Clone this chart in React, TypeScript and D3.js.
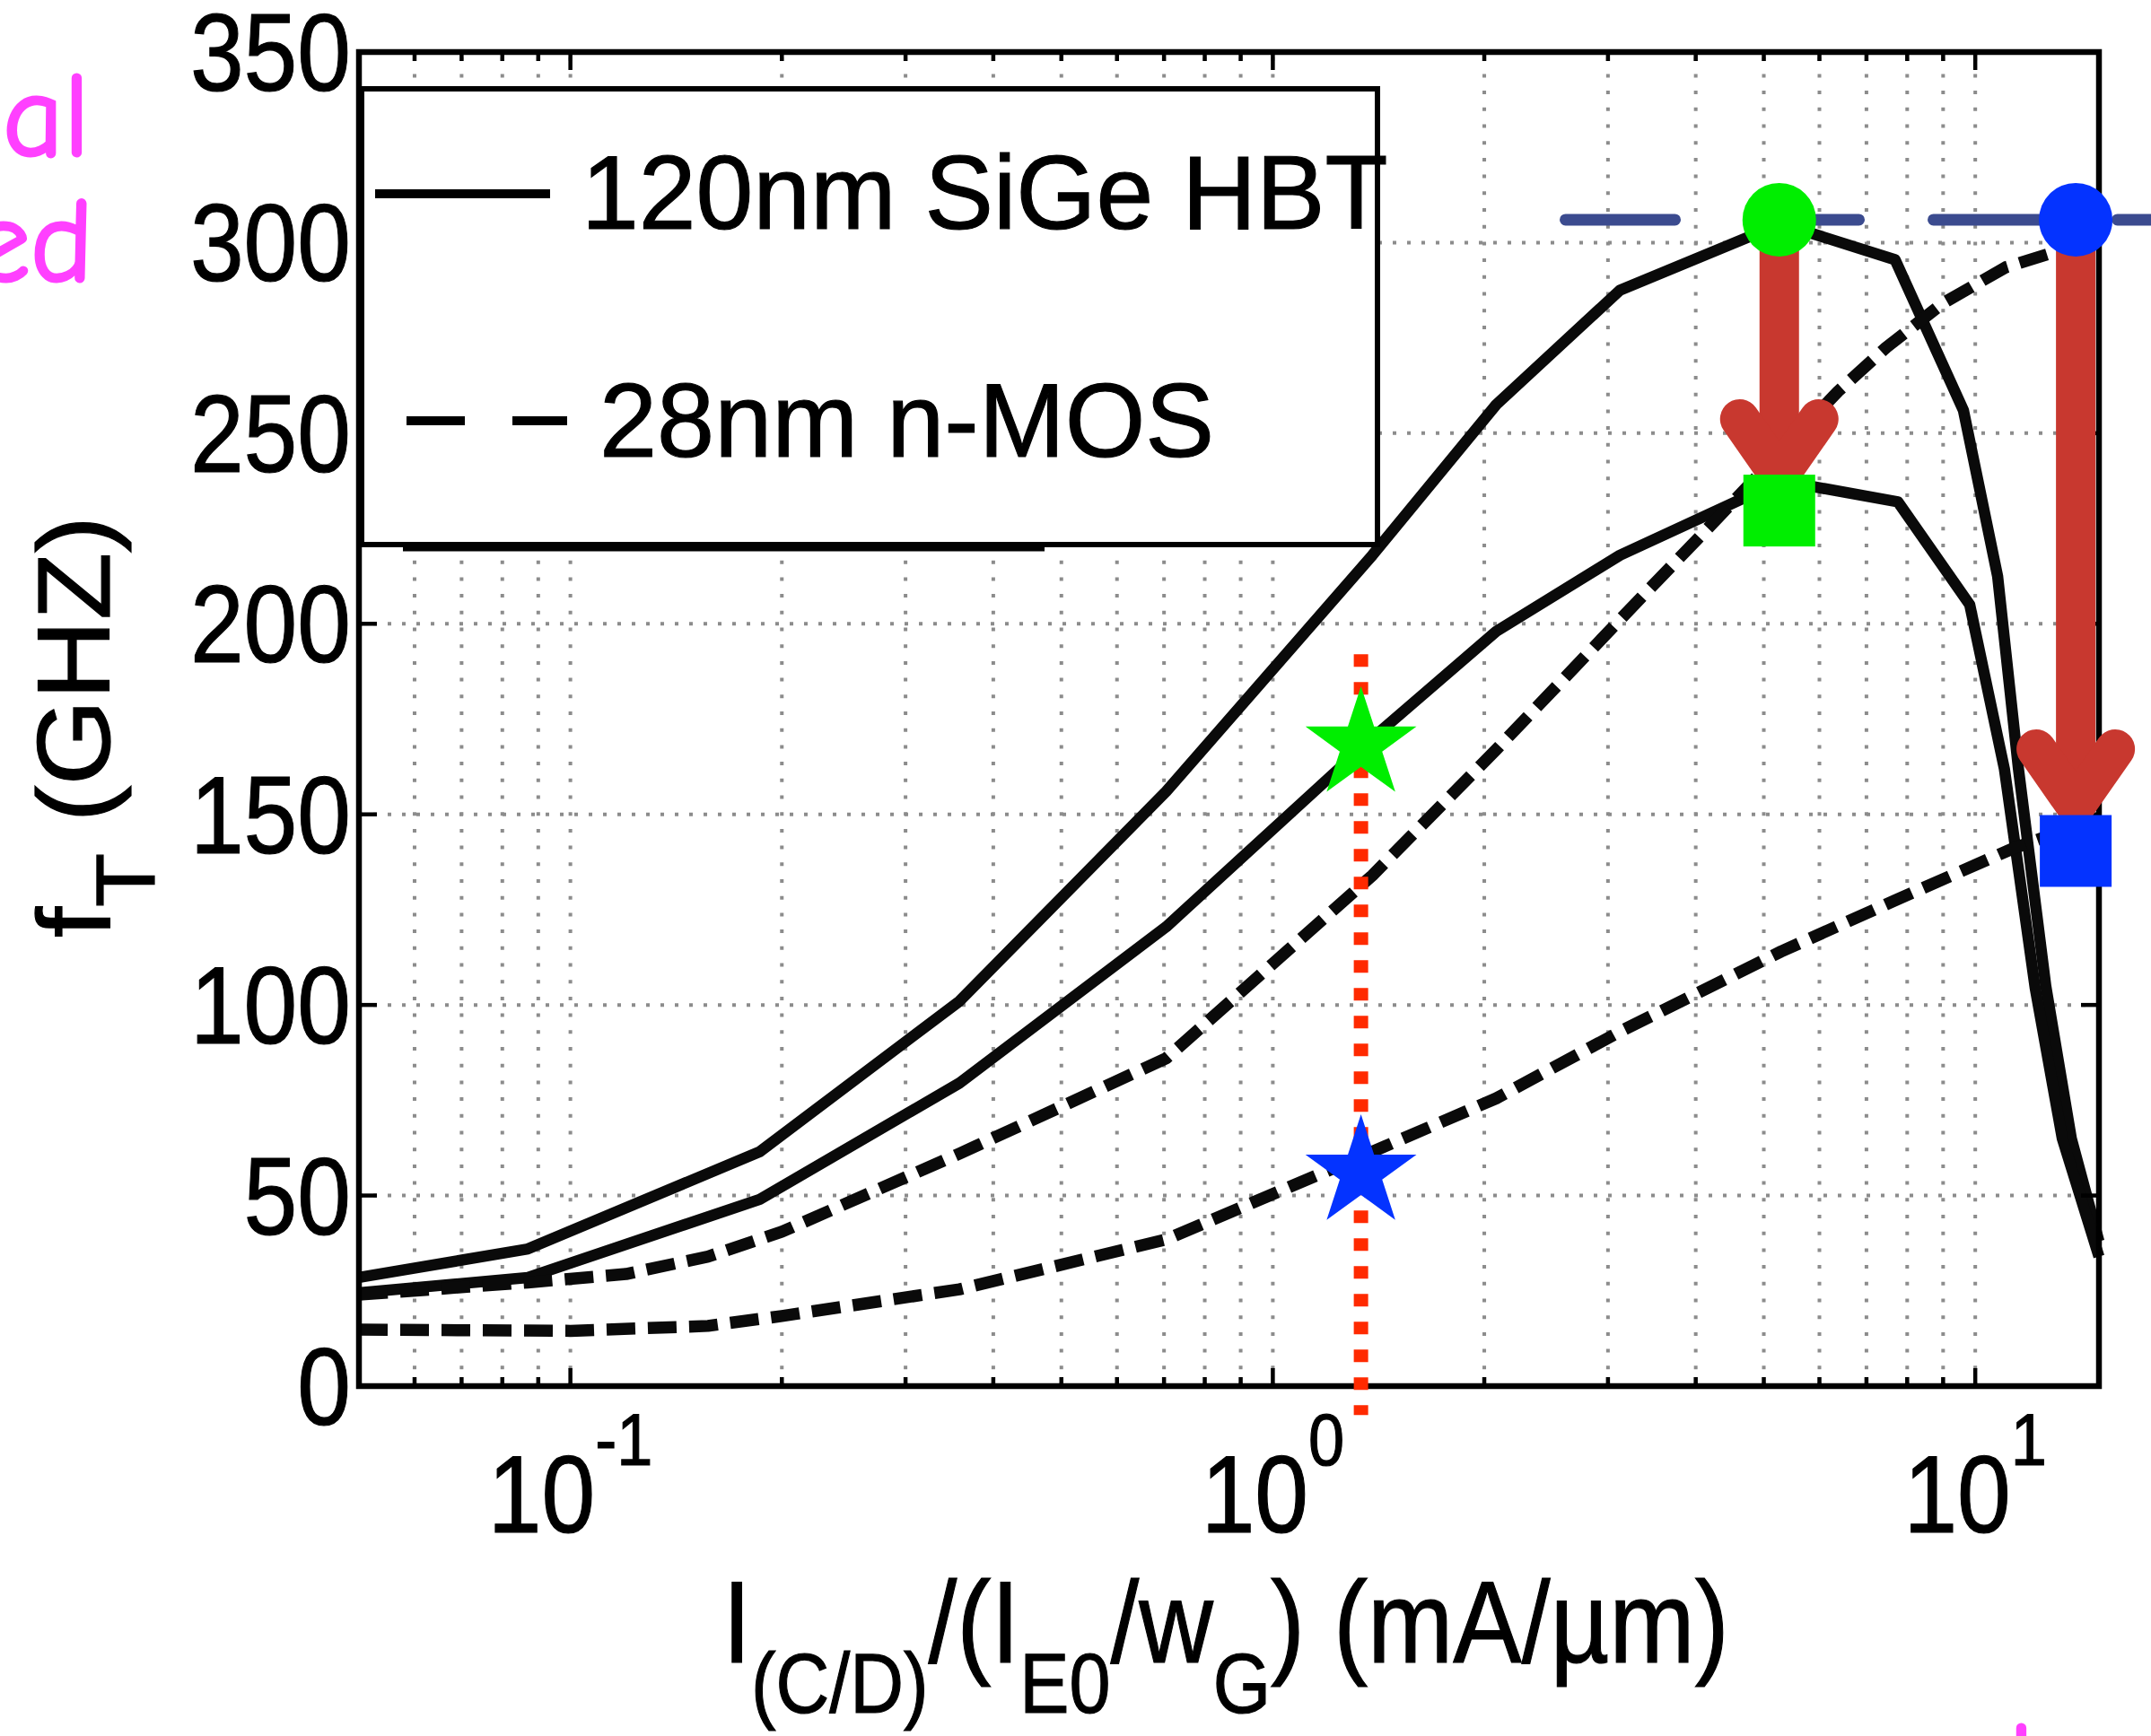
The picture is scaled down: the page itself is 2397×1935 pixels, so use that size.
import React from "react";
import * as d3 from "d3";

const WIDTH = 2397;
const HEIGHT = 1935;

// ---------- data ----------
const xDomain: [number, number] = [0.05, 15];
const yDomain: [number, number] = [0, 350];

// 120nm SiGe HBT (solid), upper curve
const hbtHighX = [0.05, 0.087, 0.186, 0.358, 0.705, 1.386, 2.08, 3.12, 5.29, 7.69, 9.62, 10.76, 11.52, 12.6, 13.7, 15];
const hbtHighY = [28.5, 36, 61.5, 101, 156, 218, 257.5, 287.5, 305, 295.5, 256, 212.5, 162, 105, 65, 38];
// 120nm SiGe HBT (solid), lower curve
const hbtLowX = [0.05, 0.087, 0.186, 0.358, 0.705, 1.386, 2.08, 3.12, 5.29, 7.76, 9.82, 11.0, 12.17, 13.3, 15];
const hbtLowY = [24.5, 28.5, 49, 79.5, 120.5, 170, 198, 218, 237.5, 232, 205, 162, 104.5, 65, 34];
// 28nm n-MOS (dashed), upper curve
const mosHighX = [0.05, 0.087, 0.12, 0.157, 0.2, 0.358, 0.705, 1.386, 2.08, 3.27, 4.11, 6.38, 7.47, 8.98, 11.04, 12.7, 15];
const mosHighY = [24, 27.2, 29.4, 34, 40.5, 61, 86, 134, 167, 205, 224, 261, 272.5, 284, 293.5, 297, 301];
// 28nm n-MOS (dashed), lower curve
const mosLowX = [0.05, 0.1, 0.157, 0.2, 0.358, 0.705, 1.386, 2.08, 3.12, 5.29, 7.7, 11.3, 15];
const mosLowY = [14.8, 14.5, 15.8, 18.4, 25.4, 38.5, 61.5, 75.5, 93, 114, 127.5, 141, 149];

const yTicks = [0, 50, 100, 150, 200, 250, 300, 350];
const yGrid = [50, 100, 150, 200, 250, 300];
const xMajorTicks = [0.1, 1, 10];
const xMajorExps = ["-1", "0", "1"];
const xMinorTicks = [0.06, 0.07, 0.08, 0.09, 0.2, 0.3, 0.4, 0.5, 0.6, 0.7, 0.8, 0.9, 2, 3, 4, 5, 6, 7, 8, 9];

const legendLabels = ["120nm SiGe HBT", "28nm n-MOS"];

// annotations
const guideFt = 306;
const guideFrom = 2.61;
const guideTo = 18;
const peakX = [5.26, 13.9];
const peakColors = ["#00ee00", "#0433ff"];
const dropTipFt = [238.9, 152.3];
const dropFt = [229.7, 140.4];
const starX = 1.335;
const starFt = [168.3, 56];
const starColors = ["#00ee00", "#0433ff"];
const redLineFt: [number, number] = [192, -7.6];

const FONT = "'Liberation Sans', Arial, Helvetica, sans-serif";

export default function App() {
  const x = d3.scaleLog().domain(xDomain).range([400, 2339]);
  const y = d3.scaleLinear().domain(yDomain).range([1545, 58]);
  const [x0, x1] = x.range();
  const [y0, y1] = y.range();

  const line = d3
    .line<[number, number]>()
    .x((d) => x(d[0]))
    .y((d) => y(d[1]));
  const zip = (xs: number[], ys: number[]) => xs.map((v, i) => [v, ys[i]] as [number, number]);

  const solidCurves = [zip(hbtHighX, hbtHighY), zip(hbtLowX, hbtLowY)];
  const dashedCurves = [zip(mosHighX, mosHighY), zip(mosLowX, mosLowY)];

  const starPath = d3.symbol().type(d3.symbolStar).size(4750)() as string;
  const red = "#c8382f";

  return (
    <svg
      width={WIDTH}
      height={HEIGHT}
      viewBox={`0 0 ${WIDTH} ${HEIGHT}`}
      style={{ position: "absolute", left: 0, top: 0, background: "#fff" }}
      fontFamily={FONT}
    >
      <rect x={0} y={0} width={WIDTH} height={HEIGHT} fill="#fff" />

      {/* grid */}
      <g stroke="#8c8c8c" strokeWidth={4}>
        {[...xMinorTicks, ...xMajorTicks].map((t, i) => (
          <line key={"gx" + i} x1={x(t)} x2={x(t)} y1={y0} y2={y1} strokeDasharray="4 14.7" />
        ))}
        {yGrid.map((t, i) => (
          <line key={"gy" + i} x1={x0} x2={x1} y1={y(t)} y2={y(t)} strokeDasharray="4 12" />
        ))}
      </g>

      {/* curves */}
      <g fill="none" stroke="#0a0a0a" strokeLinejoin="round">
        {solidCurves.map((c, i) => (
          <path key={"s" + i} d={line(c) as string} strokeWidth={12.5} />
        ))}
        {dashedCurves.map((c, i) => (
          <path key={"d" + i} d={line(c) as string} strokeWidth={13.5} strokeDasharray="32 14" />
        ))}
      </g>

      {/* ticks */}
      <g stroke="#000" strokeWidth={4.5}>
        {xMajorTicks.map((t, i) => (
          <g key={"xm" + i}>
            <line x1={x(t)} x2={x(t)} y1={y0} y2={y0 - 20} />
            <line x1={x(t)} x2={x(t)} y1={y1} y2={y1 + 20} />
          </g>
        ))}
        {xMinorTicks.map((t, i) => (
          <g key={"xn" + i}>
            <line x1={x(t)} x2={x(t)} y1={y0} y2={y0 - 10} />
            <line x1={x(t)} x2={x(t)} y1={y1} y2={y1 + 10} />
          </g>
        ))}
        {yTicks.map((t, i) => (
          <g key={"yt" + i}>
            <line x1={x0} x2={x0 + 20} y1={y(t)} y2={y(t)} />
            <line x1={x1} x2={x1 - 20} y1={y(t)} y2={y(t)} />
          </g>
        ))}
      </g>

      {/* frame */}
      <rect x={x0} y={y1} width={x1 - x0} height={y0 - y1} fill="none" stroke="#000" strokeWidth={6.5} />

      {/* y tick labels */}
      {yTicks.map((t, i) => (
        <g key={"yl" + i} transform={`translate(391, ${y(t) + 43}) scale(0.88,1)`}>
          <text textAnchor="end" fontSize={122} fill="#000" stroke="#000" strokeWidth={1.2}>
            {t}
          </text>
        </g>
      ))}

      {/* x tick labels */}
      {xMajorTicks.map((t, i) => (
        <g key={"xl" + i} transform={`translate(${x(t)}, 1708) scale(0.88,1)`}>
          <text textAnchor="middle" fontSize={122} fill="#000" stroke="#000" strokeWidth={1.2}>
            10
            <tspan fontSize={82} dy={-75}>
              {xMajorExps[i]}
            </tspan>
          </text>
        </g>
      ))}

      {/* axis labels */}
      <g transform={`translate(1366, 1853) scale(0.88,1)`}>
        <text textAnchor="middle" fontSize={130} fill="#000" stroke="#000" strokeWidth={1.2}>
          I
          <tspan fontSize={94} dy={56}>(C/D)</tspan>
          <tspan dy={-56}>/(I</tspan>
          <tspan fontSize={94} dy={56}>E0</tspan>
          <tspan dy={-56}>/w</tspan>
          <tspan fontSize={94} dy={56}>G</tspan>
          <tspan dy={-56}>) (mA/µm)</tspan>
        </text>
      </g>
      <g transform={`translate(122, 810) rotate(-90) scale(1.07,1)`}>
        <text textAnchor="middle" fontSize={115} fill="#000" stroke="#000" strokeWidth={1.2}>
          f
          <tspan fontSize={92} dy={50}>T</tspan>
          <tspan dy={-50}> (GHZ)</tspan>
        </text>
      </g>

      {/* legend */}
      <rect x={403} y={99} width={1132} height={508} fill="#fff" stroke="#000" strokeWidth={6} />
      <line x1={449} x2={1164} y1={612} y2={612} stroke="#000" strokeWidth={5} />
      <line x1={418} x2={613} y1={216} y2={216} stroke="#000" strokeWidth={10} />
      <line x1={453} x2={632} y1={469} y2={469} stroke="#000" strokeWidth={10} strokeDasharray="65 53" />
      <g transform="translate(648, 255) scale(0.98,1)">
        <text fontSize={117} fill="#000" stroke="#000" strokeWidth={1.2}>{legendLabels[0]}</text>
      </g>
      <g transform="translate(668, 509) scale(0.985,1)">
        <text fontSize={117} fill="#000" stroke="#000" strokeWidth={1.2}>{legendLabels[1]}</text>
      </g>

      {/* annotations */}
      <line
        x1={x(guideFrom)}
        x2={x(guideTo)}
        y1={y(guideFt)}
        y2={y(guideFt)}
        stroke="#3b4b8f"
        strokeWidth={13}
        strokeLinecap="round"
        strokeDasharray="122 83"
      />
      <line
        x1={x(starX)}
        x2={x(starX)}
        y1={y(redLineFt[0])}
        y2={y(redLineFt[1])}
        stroke="#ff2a00"
        strokeWidth={16}
        strokeDasharray="14 17"
      />
      {peakX.map((px, i) => {
        const cx = x(px);
        const tipY = y(dropTipFt[i]);
        return (
          <g key={"arr" + i} stroke={red} strokeWidth={44} fill="none">
            <line x1={cx} x2={cx} y1={y(guideFt)} y2={tipY} />
            <path
              d={`M${cx - 44},${tipY - 63} L${cx},${tipY} L${cx + 44},${tipY - 63}`}
              strokeLinecap="round"
              strokeLinejoin="miter"
              strokeMiterlimit={4}
            />
          </g>
        );
      })}
      {peakX.map((px, i) => (
        <g key={"mk" + i}>
          <circle cx={x(px)} cy={y(guideFt)} r={41} fill={peakColors[i]} />
          <rect x={x(px) - 40} y={y(dropFt[i]) - 40} width={80} height={80} fill={peakColors[i]} />
        </g>
      ))}
      {starFt.map((v, i) => (
        <path key={"st" + i} d={starPath} transform={`translate(${x(starX)}, ${y(v)})`} fill={starColors[i]} />
      ))}

      {/* partially visible handwritten notes */}
      <g
        fill="#ff40ff"
        stroke="#ff40ff"
        strokeWidth={3}
        fontFamily="'Comic Sans MS', 'Comic Neue', 'DejaVu Sans', sans-serif"
        fontSize={132}
      >
        <text x={100} y={173} textAnchor="end">al</text>
        <text x={104} y={313} textAnchor="end">ed</text>
        <text x={2238} y={2012}>l</text>
      </g>
    </svg>
  );
}
